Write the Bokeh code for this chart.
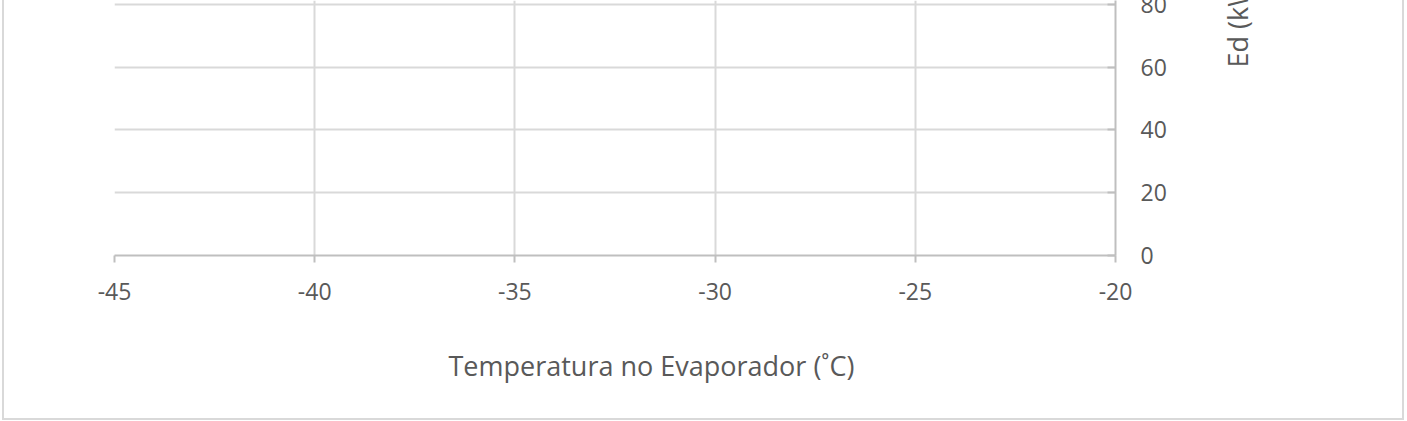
import math
from bokeh.plotting import figure
from bokeh.models import Range1d, FixedTicker, LinearAxis
from bokeh.embed import file_html
from bokeh.resources import INLINE

# chart values
x_ticks = [-45, -40, -35, -30, -25, -20]
y_ticks = [0, 20, 40, 60, 80]
x_title = "Temperatura no Evaporador (˚C)"
y_title = "Ed (kW)"
x_title_pos = -31.59   # where the x title is centred (x units)
y_title_pos = 59.9     # where the y title starts (y units)

FONT = "Open Sans"
TXT = "#595959"
GRID = "#d9d9d9"
AXIS = "#bfbfbf"

TOP = 30  # part of the chart lying above the visible window

p = figure(width=1398, height=418 + TOP,
           x_range=Range1d(-45, -20), y_range=Range1d(0, 81.27),
           output_backend="svg", toolbar_location=None,
           x_axis_location="below", y_axis_location="right",
           min_border_left=110, min_border_right=291,
           min_border_top=TOP, min_border_bottom=165)
p.styles = {"margin-left": "2px", "margin-top": f"-{TOP}px",
            "box-sizing": "content-box",
            "border-left": "2px solid #d9d9d9",
            "border-right": "2px solid #d9d9d9",
            "border-bottom": "2px solid #d9d9d9"}
p.outline_line_color = None
p.background_fill_color = "white"
p.border_fill_color = "white"

p.xaxis.ticker = FixedTicker(ticks=x_ticks)
p.xaxis.major_label_overrides = {t: str(t) for t in x_ticks}
p.yaxis.ticker = FixedTicker(ticks=y_ticks)
p.xaxis.minor_tick_line_color = None
p.yaxis.minor_tick_line_color = None

p.xaxis.axis_line_color = AXIS
p.xaxis.axis_line_width = 2
p.xaxis.major_tick_line_color = AXIS
p.xaxis.major_tick_line_width = 2
p.xaxis.major_tick_out = 7
p.xaxis.major_tick_in = 0
p.xaxis.major_label_standoff = 20
p.xaxis.major_label_text_font = FONT
p.xaxis.major_label_text_font_size = "23px"
p.xaxis.major_label_text_color = TXT

p.yaxis.axis_line_color = AXIS
p.yaxis.axis_line_width = 2
p.yaxis.major_tick_line_color = AXIS
p.yaxis.major_tick_line_width = 2
p.yaxis.major_tick_out = 0
p.yaxis.major_tick_in = 8
p.yaxis.major_label_standoff = 25
p.yaxis.major_label_text_font = FONT
p.yaxis.major_label_text_font_size = "23px"
p.yaxis.major_label_text_color = TXT

p.xgrid.grid_line_color = GRID
p.xgrid.grid_line_width = 2
p.ygrid.grid_line_color = GRID
p.ygrid.grid_line_width = 2


def title_axis(pos, text, standoff, orientation, size):
    ax = LinearAxis(ticker=FixedTicker(ticks=[pos]),
                    major_label_overrides={pos: text},
                    major_label_orientation=orientation,
                    major_label_standoff=standoff,
                    major_label_text_font=FONT,
                    major_label_text_font_size=size,
                    major_label_text_color=TXT,
                    axis_line_color=None, major_tick_line_color=None,
                    minor_tick_line_color=None)
    return ax


p.add_layout(title_axis(x_title_pos, x_title, 38, "horizontal", "27px"), "below")
p.add_layout(title_axis(y_title_pos, y_title, 62, math.pi / 2, "27px"), "right")

open("out.html", "w").write(file_html(p, INLINE))
